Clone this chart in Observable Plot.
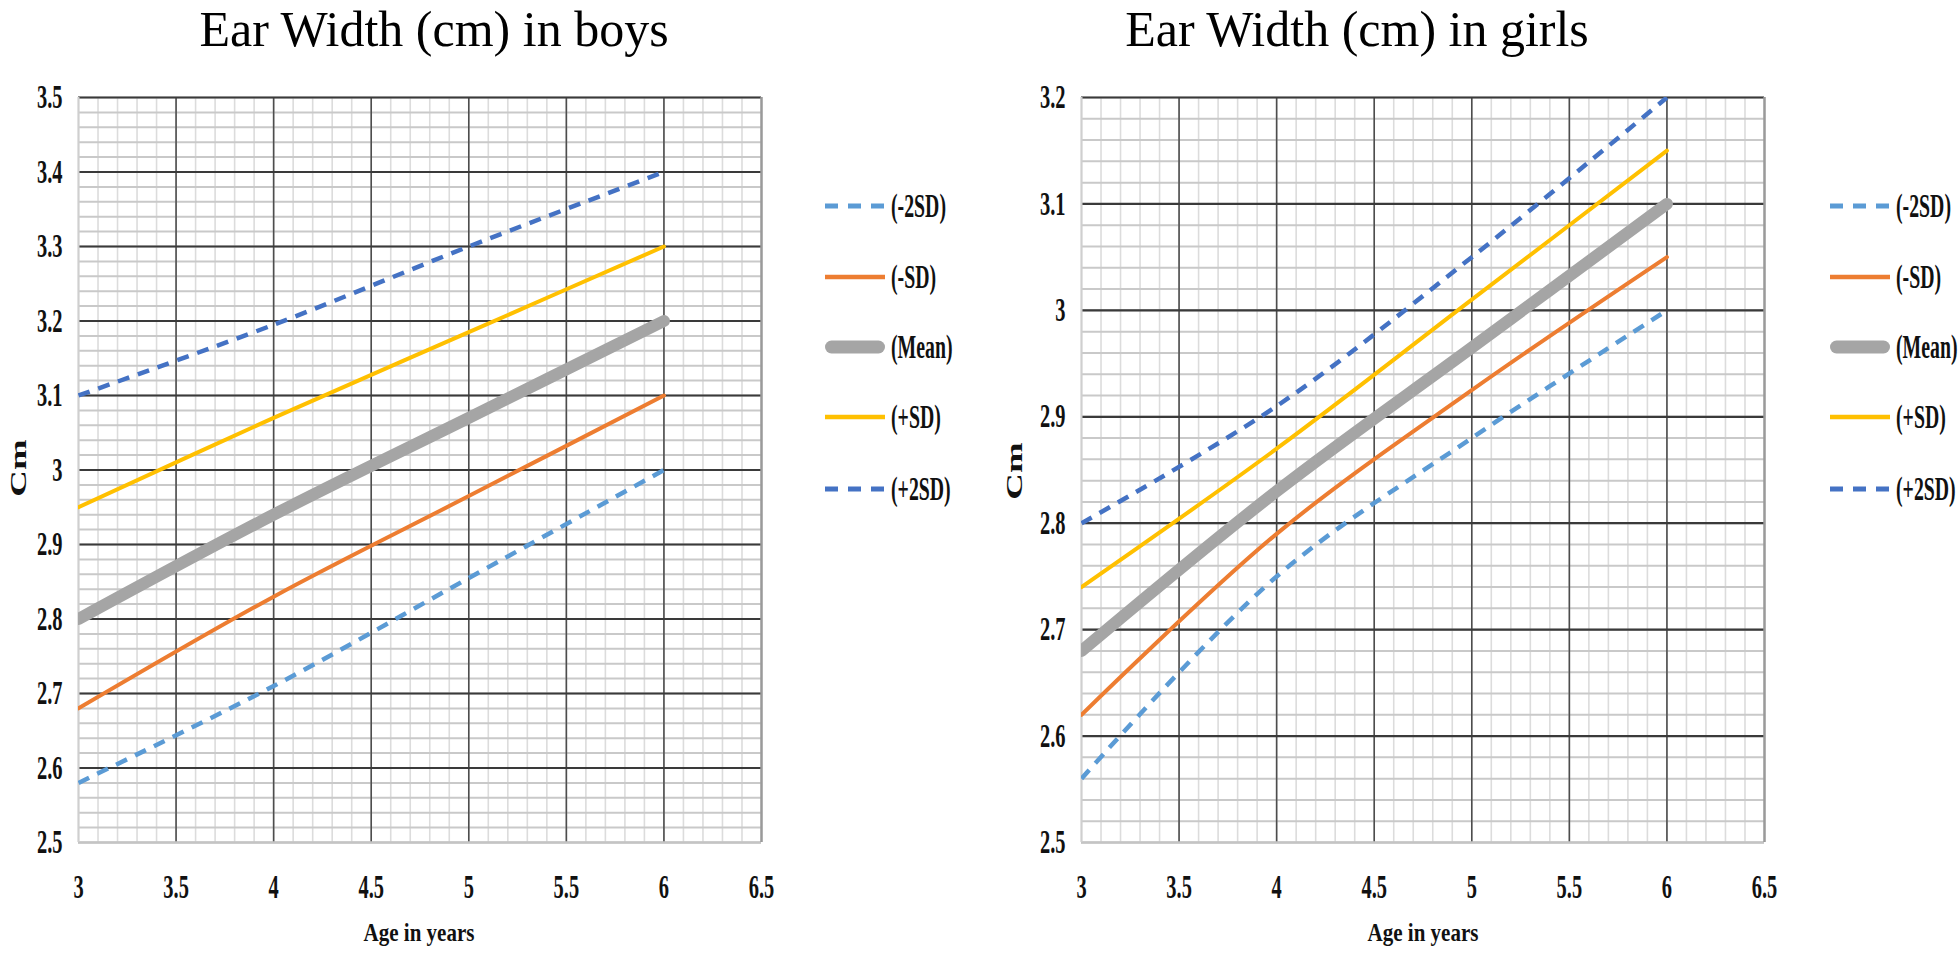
<!DOCTYPE html>
<html>
<head>
<meta charset="utf-8">
<script src="https://cdn.jsdelivr.net/npm/d3@7"></script>
<script src="https://cdn.jsdelivr.net/npm/@observablehq/plot@0.6"></script>
<style>
  html, body { margin: 0; padding: 0; background: #fff; }
  #wrap { position: relative; width: 1960px; height: 957px; overflow: hidden; background: #fff; }
  .abs { position: absolute; white-space: nowrap; }
  .title { font-family: "Liberation Serif", "Times New Roman", serif; font-size: 50px; line-height: normal; color: #000; transform: translateX(-50%); }
  .xlab { font-family: "Liberation Serif", "Times New Roman", serif; font-weight: bold; font-size: 25px; line-height: 25px; color: #111; transform: translateX(-50%) scaleX(0.84); }
  .ylab { font-family: "Liberation Serif", "Times New Roman", serif; font-weight: bold; font-size: 23px; line-height: 23px; color: #111; transform: translate(-50%, -50%) rotate(-90deg) scaleX(1.6); }
  .leg { display: flex; align-items: center; height: 40px; }
  .leg span { font-family: "Liberation Serif", "Times New Roman", serif; font-weight: bold; font-size: 33px; line-height: 33px; color: #111; display: inline-block; transform: scaleX(0.6); transform-origin: left center; margin-left: 6px; }
  .leg svg { display: block; }
</style>
</head>
<body>
<div id="wrap"></div>
<script>
// ---------- data ----------
const ages = [3, 4, 5, 6];
const seriesNames = ["(-2SD)", "(-SD)", "(Mean)", "(+SD)", "(+2SD)"];

const boysMinus2SD = [2.58, 2.71, 2.855, 3.00];
const boysMinus1SD = [2.68, 2.83, 2.965, 3.10];
const boysMean     = [2.80, 2.94, 3.07, 3.20];
const boysPlus1SD  = [2.95, 3.07, 3.185, 3.30];
const boysPlus2SD  = [3.10, 3.195, 3.30, 3.40];

const girlsMinus2SD = [2.56, 2.75, 2.88, 3.00];
const girlsMinus1SD = [2.62, 2.79, 2.925, 3.05];
const girlsMean     = [2.68, 2.83, 2.965, 3.10];
const girlsPlus1SD  = [2.74, 2.87, 3.01, 3.15];
const girlsPlus2SD  = [2.80, 2.91, 3.05, 3.20];

const xTickLabels = [3, 3.5, 4, 4.5, 5, 5.5, 6, 6.5];
const boysYTicks  = [2.5, 2.6, 2.7, 2.8, 2.9, 3, 3.1, 3.2, 3.3, 3.4, 3.5];
const girlsYTicks = [2.5, 2.6, 2.7, 2.8, 2.9, 3, 3.1, 3.2];

// ---------- styles ----------
const seriesStyle = {
  "(-2SD)": {color: "#5B9BD5", width: 4.5, dash: "12,9", cap: "butt"},
  "(-SD)":  {color: "#ED7D31", width: 4,   dash: null,   cap: "round"},
  "(Mean)": {color: "#A5A5A5", width: 12,  dash: null,   cap: "round"},
  "(+SD)":  {color: "#FFC000", width: 4,   dash: null,   cap: "round"},
  "(+2SD)": {color: "#4472C4", width: 4.5, dash: "12,9", cap: "butt"}
};

function toRows(lists) {
  const rows = [];
  lists.forEach((vals, si) => vals.forEach((v, i) => rows.push({age: ages[i], value: v, series: seriesNames[si]})));
  return rows;
}
const boysRows  = toRows([boysMinus2SD, boysMinus1SD, boysMean, boysPlus1SD, boysPlus2SD]);
const girlsRows = toRows([girlsMinus2SD, girlsMinus1SD, girlsMean, girlsPlus1SD, girlsPlus2SD]);

const fmt = d => String(+(+d).toFixed(2));

function makeChart(rows, yTicks, yMin, yMax, marginLeft) {
  const xMinor = d3.range(0, 36).map(i => +(3 + i * 0.1).toFixed(2));
  const nY = Math.round((yMax - yMin) / 0.02);
  const yMinor = d3.range(0, nY + 1).map(i => +(yMin + i * 0.02).toFixed(3));
  const xMajorInner = xTickLabels.filter(d => d > 3 && d < 6.5);
  const yMajorInner = yTicks.filter(d => d > yMin);
  const lineMarks = seriesNames.map(name => {
    const s = seriesStyle[name];
    return Plot.line(rows.filter(r => r.series === name), {
      x: "age", y: "value", stroke: s.color, strokeWidth: s.width,
      strokeDasharray: s.dash || undefined, strokeLinecap: s.cap,
      curve: "catmull-rom", clip: true
    });
  });
  return Plot.plot({
    width: 800, height: 957,
    marginTop: 97, marginBottom: 115, marginLeft: marginLeft, marginRight: 800 - marginLeft - 683,
    x: {domain: [3, 6.5]},
    y: {domain: [yMin, yMax]},
    marks: [
      Plot.ruleX(xMinor, {stroke: "#dcdcdc", strokeWidth: 1.6}),
      Plot.ruleY(yMinor, {stroke: "#c9c9c9", strokeWidth: 2}),
      Plot.ruleX(xMajorInner, {stroke: "#4d4d4d", strokeWidth: 1.6}),
      Plot.ruleY(yMajorInner, {stroke: "#3a3a3a", strokeWidth: 2.2}),
      Plot.ruleY([yMin], {stroke: "#c4c4c4", strokeWidth: 2.5}),
      Plot.ruleX([3], {stroke: "#cfcfcf", strokeWidth: 2}),
      Plot.ruleX([6.5], {stroke: "#9a9a9a", strokeWidth: 2.5}),
      ...lineMarks,
      Plot.axisX({ticks: xTickLabels, tickFormat: fmt, tickSize: 0, tickPadding: 32, label: null}),
      Plot.axisY({ticks: yTicks, tickFormat: fmt, tickSize: 0, tickPadding: 16, label: null})
    ]
  });
}

function styleTicks(svg) {
  svg.querySelectorAll('g[aria-label="x-axis tick label"], g[aria-label="y-axis tick label"]').forEach(g => {
    g.style.fontSize = "33px";
    g.style.fontWeight = "bold";
    g.style.fontFamily = '"Liberation Serif", "Times New Roman", serif';
    g.setAttribute("fill", "#111");
    g.querySelectorAll("text").forEach(t => {
      let tr = t.getAttribute("transform");
      if (!tr) {
        const x = t.getAttribute("x") || 0;
        tr = `translate(${x},0)`;
        t.removeAttribute("x");
      }
      t.setAttribute("transform", tr + " scale(0.62,1)");
    });
  });
}

const wrap = document.getElementById("wrap");

function place(el, left, top) {
  el.style.position = "absolute";
  el.style.left = left + "px";
  el.style.top = top + "px";
  wrap.appendChild(el);
}

function addText(cls, text, left, top) {
  const d = document.createElement("div");
  d.className = "abs " + cls;
  d.textContent = text;
  place(d, left, top);
}

function addLegend(left, centers) {
  seriesNames.forEach((name, i) => {
    const s = seriesStyle[name];
    const row = document.createElement("div");
    row.className = "abs leg";
    const ns = "http://www.w3.org/2000/svg";
    const sv = document.createElementNS(ns, "svg");
    sv.setAttribute("width", 60); sv.setAttribute("height", 20);
    const ln = document.createElementNS(ns, "line");
    const pad = name === "(Mean)" ? 6.5 : 0;
    ln.setAttribute("x1", pad); ln.setAttribute("x2", 60 - pad);
    ln.setAttribute("y1", 10); ln.setAttribute("y2", 10);
    ln.setAttribute("stroke", s.color);
    ln.setAttribute("stroke-width", name === "(Mean)" ? 13 : (s.dash ? 5 : 4.5));
    ln.setAttribute("stroke-linecap", name === "(Mean)" ? "round" : "butt");
    if (s.dash) ln.setAttribute("stroke-dasharray", "13,10");
    sv.appendChild(ln);
    row.appendChild(sv);
    const sp = document.createElement("span");
    sp.textContent = name;
    row.appendChild(sp);
    place(row, left, centers[i] - 20);
  });
}

// Boys chart
const boys = makeChart(boysRows, boysYTicks, 2.5, 3.5, 78);
styleTicks(boys);
place(boys, 0, 0);

// Girls chart
const girls = makeChart(girlsRows, girlsYTicks, 2.5, 3.2, 81);
styleTicks(girls);
place(girls, 1000, 0);

// Titles
addText("title", "Ear Width (cm) in boys", 434, 0);
addText("title", "Ear Width (cm) in girls", 1357, 0);

// Axis titles
addText("xlab", "Age in years", 419, 920);
addText("xlab", "Age in years", 1423, 920);
addText("ylab", "Cm", 18, 468);
addText("ylab", "Cm", 1014, 471);

// Legends
const legendRows = [206, 277, 347, 417, 489];
addLegend(825, legendRows);
addLegend(1830, legendRows);
</script>
</body>
</html>
